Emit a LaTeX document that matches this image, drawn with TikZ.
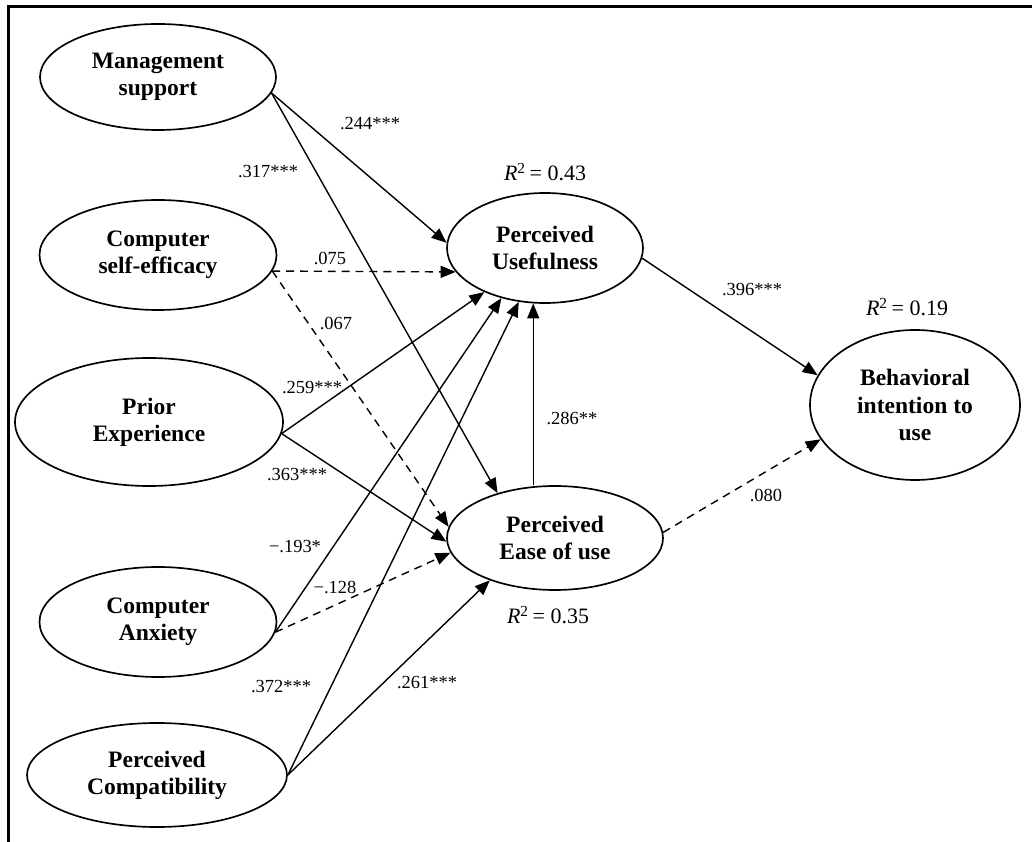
\documentclass[tikz,border=0pt]{standalone}
\usepackage{fontspec}
\setmainfont{Liberation Serif}
\usetikzlibrary{shapes.geometric,arrows.meta}

\begin{document}
\begin{tikzpicture}[
    var/.style={ellipse, draw, line width=0.95pt, inner sep=0pt, align=center,
                font=\fontsize{13.4}{15.4}\selectfont\bfseries},
    sig/.style={-{Triangle[length=0.3cm, width=0.24cm]}, line width=0.8pt},
    nsig/.style={sig, dash pattern=on 4.5pt off 3.4pt},
    coef/.style={font=\fontsize{10.5}{12}\selectfont, inner sep=1pt},
    rsq/.style={font=\fontsize{12.5}{14}\selectfont, inner sep=1pt}]
  \useasboundingbox (0, 0) rectangle (20.64, -16.84);
  \draw[line width=1.4pt] (20.64, -0.13) -- (0.17, -0.13) -- (0.17, -16.84);

  % exogenous constructs
  \node (ms) [var, minimum width=4.72cm, minimum height=2.12cm] at (3.16, -1.54) {Management\\support};
  \node (cse) [var, minimum width=4.74cm, minimum height=2.2cm] at (3.16, -5.10) {Computer\\self-efficacy};
  \node (pe) [var, minimum width=5.36cm, minimum height=2.56cm] at (2.98, -8.44) {Prior\\Experience};
  \node (ca) [var, minimum width=4.74cm, minimum height=2.2cm] at (3.16, -12.44) {Computer\\Anxiety};
  \node (pc) [var, minimum width=5.2cm, minimum height=2.08cm] at (3.14, -15.5) {Perceived\\Compatibility};

  % TAM constructs
  \node (pu) [var, minimum width=3.92cm, minimum height=2.2cm] at (10.9, -4.96) {Perceived\\Usefulness};
  \node (peou) [var, minimum width=4.32cm, minimum height=2.08cm] at (11.1, -10.76) {Perceived\\Ease of use};
  \node (bi) [var, minimum width=4.2cm, minimum height=3.0cm] at (18.3, -8.1) {Behavioral\\intention to\\use};

  \node (r43) [rsq] at (10.9, -3.44) {\textit{R}\textsuperscript{2}\,= 0.43};
  \node (r35) [rsq] at (10.96, -12.3) {\textit{R}\textsuperscript{2}\,= 0.35};
  \node (r19) [rsq] at (18.14, -6.14) {\textit{R}\textsuperscript{2}\,= 0.19};

  % paths
  \draw[sig] (ms.-8) -- (pu.177);
  \draw[sig] (ms.-8) -- (peou.142);
  \draw[nsig] (cse.-8) -- (pu.195);
  \draw[nsig] (cse.-8) -- (peou.174);
  \draw[sig] (pe.-5) -- (pu.216);
  \draw[sig] (pe.-5) -- (peou.182);
  \draw[sig] (ca.-5) -- (pu.229);
  \draw[nsig] (ca.-5) -- (peou.188);
  \draw[sig] (pc.0) -- (pu.244);
  \draw[sig] (pc.0) -- (peou.213);
  \draw[sig] (peou.north -| pu.258) -- (pu.258);
  \draw[sig] (pu.-6) -- (bi.163);
  \draw[nsig] (peou.3) -- (bi.200);

  \node (c244) [coef] at (7.4, -2.48) {.244***};
  \node (c317) [coef] at (5.36, -3.44) {.317***};
  \node (c075) [coef] at (6.6, -5.16) {.075};
  \node (c067) [coef] at (6.72, -6.46) {.067};
  \node (c259) [coef] at (6.24, -7.76) {.259***};
  \node (c363) [coef] at (5.94, -9.5) {.363***};
  \node (c193) [coef] at (5.9, -10.94) {−.193*};
  \node (c128) [coef] at (6.7, -11.74) {−.128};
  \node (c372) [coef] at (5.62, -13.74) {.372***};
  \node (c261) [coef] at (8.54, -13.66) {.261***};
  \node (c286) [coef] at (11.44, -8.36) {.286**};
  \node (c396) [coef] at (15.04, -5.8) {.396***};
  \node (c080) [coef] at (15.32, -9.9) {.080};
\end{tikzpicture}
\end{document}
